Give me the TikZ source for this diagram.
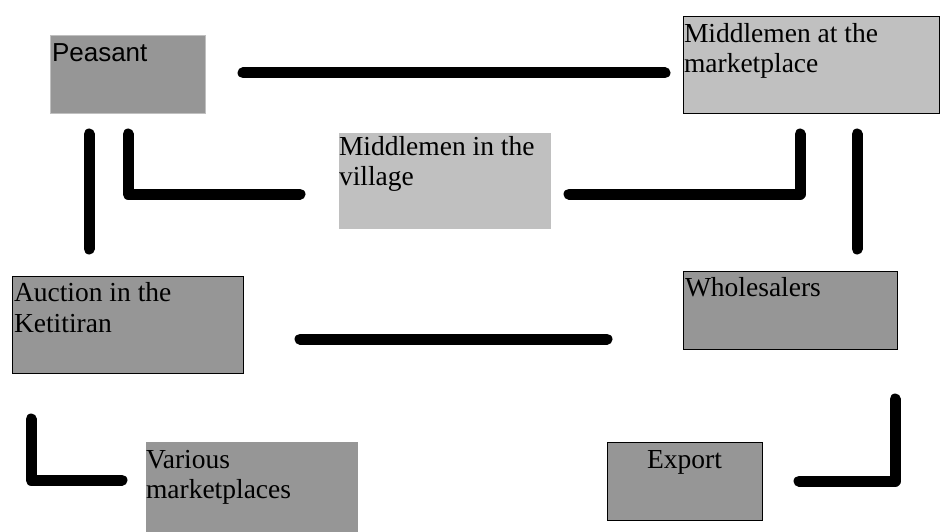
\documentclass[tikz,border=0pt]{standalone}
\usepackage{fontspec}
\setmainfont{Liberation Serif}
\newfontfamily\arialfont{Liberation Sans}
\definecolor{boxdark}{RGB}{150,150,150}
\definecolor{boxlight}{RGB}{192,192,192}
\tikzset{
  conn/.style={line width=11pt, line cap=round, line join=round, black},
  boxbase/.style={anchor=north west, inner sep=0pt, outer sep=0pt},
  darkbox/.style={boxbase, fill=boxdark, draw=black, line width=1pt},
  darkplain/.style={boxbase, fill=boxdark},
  lightbox/.style={boxbase, fill=boxlight, draw=black, line width=1pt},
  lightplain/.style={boxbase, fill=boxlight},
  lbl/.style={anchor=base west, inner sep=0pt, outer sep=0pt, font=\fontsize{27.5}{30}\selectfont},
  sanslbl/.style={anchor=base west, inner sep=0pt, outer sep=0pt, font=\arialfont\fontsize{26}{30}\selectfont}
}
\begin{document}
\begin{tikzpicture}[x=1pt,y=-1pt]
\useasboundingbox (0,0) rectangle (940,532);
% boxes
\node[darkbox, draw=boxlight, minimum width=155pt, minimum height=78pt] (peasant) at (50,36) {};
\node[lightbox, minimum width=256pt, minimum height=97pt] (mmarket) at (683,17) {};
\node[lightplain, minimum width=212pt, minimum height=96pt] (mvillage) at (339,133) {};
\node[darkbox, minimum width=231pt, minimum height=97pt] (auction) at (12,276) {};
\node[darkbox, minimum width=214pt, minimum height=78pt] (wholesale) at (683,271) {};
\node[darkplain, minimum width=212pt, minimum height=90pt] (various) at (146,442) {};
\node[darkbox, minimum width=155pt, minimum height=78pt] (export) at (607,442) {};
% texts
\node[sanslbl] (peasantT) at (52,62) {Peasant};
\node[lbl] (mmarketT) at (684,43) {\parbox[t]{250pt}{Middlemen at the\\marketplace}};
\node[lbl] (mvillageT) at (339,156) {\parbox[t]{210pt}{Middlemen in the\\village}};
\node[lbl] (auctionT) at (14,301) {\parbox[t]{228pt}{\baselineskip=31pt Auction in the\\Ketitiran}};
\node[lbl] (wholesaleT) at (685,296) {Wholesalers};
\node[lbl] (variousT) at (146,468) {\parbox[t]{210pt}{Various\\marketplaces}};
\node[lbl, anchor=base] (exportT) at (684.5,468) {Export};
% connector end points
\coordinate (t1) at (243,73);   \coordinate (t2) at (665,73);
\coordinate (lv1) at (89,134);  \coordinate (lv2) at (89,249);
\coordinate (la1) at (128,134); \coordinate (la2) at (128,194); \coordinate (la3) at (300,194);
\coordinate (ra1) at (569,194); \coordinate (ra2) at (800,194); \coordinate (ra3) at (800,134);
\coordinate (rv1) at (857,134); \coordinate (rv2) at (857,249);
\coordinate (m1) at (300,339);  \coordinate (m2) at (607,339);
\coordinate (bl1) at (31,419);  \coordinate (bl2) at (31,480);  \coordinate (bl3) at (122,480);
\coordinate (br1) at (895,399); \coordinate (br2) at (895,481); \coordinate (br3) at (799,481);
% connectors
\draw[conn] (t1) -- (t2);
\draw[conn] (lv1) -- (lv2);
\draw[conn] (la1) -- (la2) -- (la3);
\draw[conn] (ra1) -- (ra2) -- (ra3);
\draw[conn] (rv1) -- (rv2);
\draw[conn] (m1) -- (m2);
\draw[conn] (bl1) -- (bl2) -- (bl3);
\draw[conn] (br1) -- (br2) -- (br3);
\end{tikzpicture}
\end{document}
